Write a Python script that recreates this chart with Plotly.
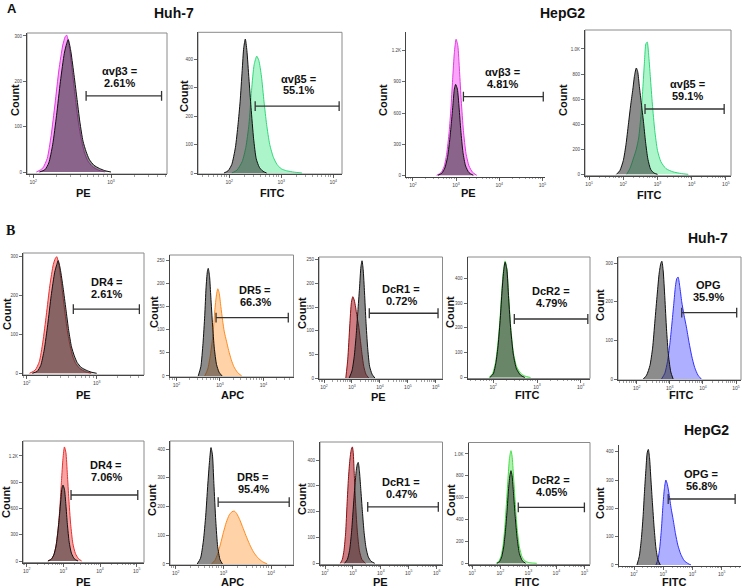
import plotly.graph_objects as go

W, H = 742, 588

# ---------------- DATA (log10 fluorescence, event count) ----------------
# Panel A, Huh-7 avb3 (PE)
a1_ctrl_x = [2.08, 2.15, 2.20, 2.25, 2.30, 2.35, 2.40, 2.43, 2.45, 2.48, 2.52, 2.56, 2.60, 2.64, 2.68, 2.72, 2.78, 2.85, 2.92, 3.00]
a1_ctrl_y = [0, 5, 20, 60, 125, 200, 262, 283, 292, 270, 220, 165, 110, 68, 45, 28, 15, 8, 3, 0]
a1_stain_x = [2.04, 2.12, 2.18, 2.23, 2.28, 2.33, 2.38, 2.41, 2.43, 2.46, 2.50, 2.54, 2.58, 2.62, 2.66, 2.70, 2.76, 2.84, 2.92]
a1_stain_y = [0, 8, 30, 80, 150, 225, 280, 298, 302, 280, 225, 165, 110, 70, 42, 25, 12, 4, 0]
# Panel A, Huh-7 avb5 (FITC)
a2_ctrl_x = [1.90, 1.98, 2.05, 2.12, 2.17, 2.21, 2.25, 2.28, 2.31, 2.34, 2.38, 2.42, 2.47, 2.52, 2.58, 2.65, 2.72]
a2_ctrl_y = [0, 8, 30, 90, 170, 250, 360, 440, 470, 430, 330, 230, 120, 50, 20, 6, 0]
a2_stain_x = [2.05, 2.15, 2.25, 2.32, 2.38, 2.43, 2.48, 2.53, 2.57, 2.62, 2.67, 2.72, 2.78, 2.85, 2.92, 3.00, 3.10, 3.25, 3.40]
a2_stain_y = [0, 10, 40, 90, 170, 290, 380, 410, 395, 340, 250, 170, 100, 55, 30, 15, 8, 3, 0]
# Panel A, HepG2 avb3 (PE)
a3_ctrl_x = [2.58, 2.67, 2.74, 2.80, 2.85, 2.89, 2.93, 2.96, 2.99, 3.03, 3.07, 3.11, 3.16, 3.22, 3.30, 3.40]
a3_ctrl_y = [0, 20, 70, 170, 330, 500, 690, 830, 875, 830, 650, 430, 220, 90, 25, 0]
a3_stain_x = [2.55, 2.65, 2.72, 2.78, 2.84, 2.88, 2.92, 2.96, 3.00, 3.04, 3.08, 3.12, 3.17, 3.23, 3.30, 3.38, 3.48]
a3_stain_y = [0, 25, 80, 200, 420, 640, 920, 1180, 1310, 1250, 1000, 720, 430, 210, 90, 30, 0]
# Panel A, HepG2 avb5 (FITC)
a4_ctrl_x = [1.80, 1.90, 2.00, 2.08, 2.15, 2.22, 2.28, 2.33, 2.38, 2.42, 2.47, 2.53, 2.59, 2.65, 2.72, 2.80, 2.90, 3.00]
a4_ctrl_y = [0, 30, 110, 240, 400, 560, 680, 790, 848, 820, 700, 560, 420, 260, 120, 40, 10, 0]
a4_stain_x = [2.10, 2.20, 2.30, 2.38, 2.45, 2.52, 2.57, 2.62, 2.66, 2.70, 2.74, 2.79, 2.85, 2.92, 3.00, 3.10, 3.25, 3.45, 3.70, 3.90]
a4_stain_y = [0, 50, 130, 200, 290, 480, 680, 900, 1040, 1055, 960, 780, 560, 350, 190, 100, 45, 20, 6, 0]
# Panel B, Huh-7
b1_ctrl_x = [2.08, 2.15, 2.20, 2.25, 2.30, 2.35, 2.40, 2.43, 2.45, 2.48, 2.52, 2.56, 2.60, 2.64, 2.68, 2.72, 2.78, 2.85, 2.92, 3.00]
b1_ctrl_y = [0, 5, 20, 60, 125, 200, 260, 280, 290, 268, 220, 165, 110, 68, 45, 28, 15, 8, 3, 0]
b1_stain_x = [2.04, 2.12, 2.18, 2.23, 2.28, 2.33, 2.38, 2.41, 2.43, 2.46, 2.50, 2.54, 2.58, 2.62, 2.66, 2.70, 2.76, 2.84, 2.92]
b1_stain_y = [0, 8, 30, 80, 150, 225, 280, 296, 300, 278, 225, 165, 110, 70, 42, 25, 12, 4, 0]
b2_ctrl_x = [2.50, 2.56, 2.61, 2.65, 2.68, 2.71, 2.73, 2.76, 2.79, 2.83, 2.87, 2.92, 2.98, 3.05]
b2_ctrl_y = [0, 20, 70, 130, 190, 225, 232, 215, 170, 110, 60, 25, 8, 0]
b2_stain_x = [2.65, 2.72, 2.78, 2.84, 2.88, 2.92, 2.95, 2.98, 3.02, 3.06, 3.10, 3.15, 3.20, 3.26, 3.32, 3.40, 3.50]
b2_stain_y = [0, 15, 45, 90, 140, 175, 188, 180, 150, 120, 95, 75, 55, 35, 20, 8, 0]
b3_ctrl_x = [2.90, 3.00, 3.08, 3.15, 3.21, 3.27, 3.32, 3.36, 3.40, 3.45, 3.50, 3.56, 3.63, 3.72, 3.82]
b3_ctrl_y = [0, 15, 45, 90, 140, 190, 235, 248, 230, 180, 120, 65, 25, 8, 0]
b3_stain_x = [2.78, 2.85, 2.92, 2.98, 3.03, 3.08, 3.13, 3.18, 3.24, 3.30, 3.36, 3.42, 3.50, 3.60]
b3_stain_y = [0, 40, 110, 160, 172, 165, 150, 130, 110, 80, 50, 25, 8, 0]
b4_ctrl_x = [1.92, 2.00, 2.06, 2.11, 2.16, 2.20, 2.24, 2.27, 2.31, 2.35, 2.40, 2.46, 2.53, 2.62, 2.72]
b4_ctrl_y = [0, 15, 60, 130, 240, 350, 435, 465, 435, 320, 190, 90, 35, 10, 0]
b4_stain_x = [1.90, 1.98, 2.05, 2.10, 2.15, 2.19, 2.23, 2.27, 2.31, 2.35, 2.40, 2.46, 2.53, 2.62, 2.72, 2.85]
b4_stain_y = [0, 15, 60, 130, 230, 340, 430, 470, 440, 330, 200, 100, 45, 18, 6, 0]
b5_ctrl_x = [2.20, 2.30, 2.40, 2.48, 2.55, 2.62, 2.68, 2.73, 2.76, 2.80, 2.85, 2.90, 2.96, 3.03, 3.10]
b5_ctrl_y = [0, 10, 35, 80, 150, 220, 275, 300, 305, 280, 210, 130, 60, 18, 0]
b5_stain_x = [2.75, 2.85, 2.93, 3.00, 3.06, 3.12, 3.17, 3.21, 3.25, 3.30, 3.36, 3.43, 3.50, 3.58, 3.66, 3.75, 3.85, 3.95]
b5_stain_y = [0, 15, 45, 90, 140, 195, 240, 260, 264, 240, 200, 165, 135, 95, 60, 30, 10, 0]
# Panel B, HepG2
c1_ctrl_x = [2.58, 2.67, 2.74, 2.80, 2.85, 2.89, 2.93, 2.96, 2.99, 3.03, 3.07, 3.11, 3.16, 3.22, 3.30, 3.40]
c1_ctrl_y = [0, 20, 70, 170, 330, 500, 690, 825, 867, 820, 640, 420, 215, 90, 25, 0]
c1_stain_x = [2.58, 2.68, 2.75, 2.81, 2.87, 2.91, 2.95, 2.99, 3.03, 3.07, 3.11, 3.15, 3.20, 3.26, 3.33, 3.41, 3.50]
c1_stain_y = [0, 25, 80, 200, 420, 640, 920, 1170, 1303, 1240, 990, 710, 420, 200, 85, 28, 0]
c2_ctrl_x = [2.45, 2.52, 2.58, 2.63, 2.67, 2.71, 2.74, 2.77, 2.80, 2.84, 2.88, 2.93, 2.98]
c2_ctrl_y = [0, 20, 80, 170, 270, 360, 405, 380, 280, 150, 60, 15, 0]
c2_stain_x = [2.75, 2.82, 2.88, 2.94, 3.00, 3.06, 3.12, 3.18, 3.23, 3.28, 3.34, 3.40, 3.47, 3.55, 3.63, 3.72, 3.82, 3.92]
c2_stain_y = [0, 12, 35, 70, 110, 145, 170, 182, 184, 175, 155, 130, 100, 68, 42, 22, 8, 0]
c3_ctrl_x = [2.70, 2.80, 2.88, 2.95, 3.01, 3.07, 3.12, 3.16, 3.19, 3.23, 3.28, 3.34, 3.40, 3.47, 3.55, 3.65, 3.78]
c3_ctrl_y = [0, 15, 50, 120, 210, 300, 360, 385, 391, 360, 290, 200, 120, 60, 25, 8, 0]
c3_stain_x = [2.55, 2.62, 2.68, 2.74, 2.79, 2.84, 2.89, 2.94, 2.98, 3.01, 3.05, 3.10, 3.16, 3.23, 3.32, 3.45]
c3_stain_y = [0, 15, 50, 120, 230, 330, 400, 440, 451, 430, 340, 220, 120, 50, 15, 0]
c4_ctrl_x = [1.88, 1.97, 2.05, 2.12, 2.18, 2.24, 2.29, 2.34, 2.38, 2.42, 2.47, 2.53, 2.60, 2.68, 2.78, 2.90]
c4_ctrl_y = [0, 15, 60, 150, 290, 480, 670, 800, 847, 800, 640, 430, 230, 90, 25, 0]
c4_stain_x = [1.85, 1.95, 2.03, 2.10, 2.16, 2.22, 2.28, 2.33, 2.38, 2.42, 2.47, 2.53, 2.60, 2.68, 2.78, 2.90, 3.05, 3.30]
c4_stain_y = [0, 20, 70, 170, 330, 560, 800, 970, 1030, 980, 800, 560, 320, 150, 55, 18, 5, 0]
c5_ctrl_x = [2.10, 2.18, 2.25, 2.31, 2.36, 2.41, 2.45, 2.49, 2.53, 2.58, 2.63, 2.69, 2.75, 2.82, 2.90]
c5_ctrl_y = [0, 30, 90, 170, 260, 340, 395, 408, 380, 300, 220, 130, 60, 18, 0]
c5_stain_x = [2.75, 2.82, 2.88, 2.94, 2.99, 3.04, 3.09, 3.14, 3.20, 3.27, 3.34, 3.42, 3.50, 3.60, 3.72, 3.85, 3.95]
c5_stain_y = [0, 20, 60, 130, 210, 270, 300, 285, 250, 200, 160, 110, 70, 38, 15, 5, 0]

ctrl_x = [a1_ctrl_x, a2_ctrl_x, a3_ctrl_x, a4_ctrl_x, b1_ctrl_x, b2_ctrl_x, b3_ctrl_x, b4_ctrl_x, b5_ctrl_x,
          c1_ctrl_x, c2_ctrl_x, c3_ctrl_x, c4_ctrl_x, c5_ctrl_x]
ctrl_y = [a1_ctrl_y, a2_ctrl_y, a3_ctrl_y, a4_ctrl_y, b1_ctrl_y, b2_ctrl_y, b3_ctrl_y, b4_ctrl_y, b5_ctrl_y,
          c1_ctrl_y, c2_ctrl_y, c3_ctrl_y, c4_ctrl_y, c5_ctrl_y]
stain_x = [a1_stain_x, a2_stain_x, a3_stain_x, a4_stain_x, b1_stain_x, b2_stain_x, b3_stain_x, b4_stain_x, b5_stain_x,
           c1_stain_x, c2_stain_x, c3_stain_x, c4_stain_x, c5_stain_x]
stain_y = [a1_stain_y, a2_stain_y, a3_stain_y, a4_stain_y, b1_stain_y, b2_stain_y, b3_stain_y, b4_stain_y, b5_stain_y,
           c1_stain_y, c2_stain_y, c3_stain_y, c4_stain_y, c5_stain_y]

# gates (log10 low, log10 high, drawn at count level)
gate_lo = [2.68, 2.50, 3.17, 2.635, 2.666, 2.91, 3.62, 2.48, 3.36, 3.21, 2.89, 3.53, 2.64, 3.17]
gate_hi = [3.65, 4.115, 5.02, 4.95, 3.61, 4.57, 6.08, 4.16, 5.02, 5.03, 4.38, 6.06, 5.00, 5.46]
gate_count = [168, 235, 757, 521, 165, 126, 137, 236, 172, 754, 215, 219, 512, 233]

label_top = ["αvβ3 =", "αvβ5 =", "αvβ3 =", "αvβ5 =", "DR4 =", "DR5 =", "DcR1 =", "DcR2 =", "OPG",
             "DR4 =", "DR5 =", "DcR1 =", "DcR2 =", "OPG ="]
label_pct = ["2.61%", "55.1%", "4.81%", "59.1%", "2.61%", "66.3%", "0.72%", "4.79%", "35.9%",
             "7.06%", "95.4%", "0.47%", "4.05%", "56.8%"]
channels = ["PE", "FITC", "PE", "FITC", "PE", "APC", "PE", "FITC", "FITC", "PE", "APC", "PE", "FITC", "FITC"]

x_decades = [[2, 3], [2, 3, 4], [2, 3, 4, 5], [1, 2, 3, 4, 5], [2, 3], [2, 3, 4], [2, 3, 4, 5, 6], [2, 3, 4],
             [2, 3, 4, 5], [2, 3, 4, 5], [2, 3, 4], [2, 3, 4, 5, 6], [1, 2, 3, 4, 5], [2, 3, 4, 5]]
y_ticks = [[0, 100, 200, 300], [0, 100, 200, 300, 400], [0, 300, 600, 900, 1200], [0, 200, 400, 600, 800, 1000],
           [0, 100, 200, 300], [0, 50, 100, 150, 200, 250], [0, 50, 100, 150, 200, 250], [0, 100, 200, 300, 400],
           [0, 100, 200, 300], [0, 300, 600, 900, 1200], [0, 100, 200, 300, 400], [0, 100, 200, 300, 400],
           [0, 200, 400, 600, 800, 1000], [0, 100, 200, 300, 400]]
y_ticktext = [["0", "100", "200", "300"], ["0", "100", "200", "300", "400"], ["0", "300", "600", "900", "1.2K"],
              ["0", "200", "400", "600", "800", "1.0K"], ["0", "100", "200", "300"],
              ["0", "50", "100", "150", "200", "250"], ["0", "50", "100", "150", "200", "250"],
              ["0", "100", "200", "300", "400"], ["0", "100", "200", "300"], ["0", "300", "600", "900", "1.2K"],
              ["0", "100", "200", "300", "400"], ["0", "100", "200", "300", "400"],
              ["0", "200", "400", "600", "800", "1.0K"], ["0", "100", "200", "300", "400"]]

# ---------------- LAYOUT / STYLE ----------------
# plot box in pixels: left, right, top, bottom ; axis ranges
boxes = [(27, 167, 33, 174), (198, 342, 32.3, 174), (406, 545, 31.7, 176.7), (585, 731, 30, 175.7),
         (23, 144, 253, 375), (169.5, 293.5, 255, 377), (319, 442.5, 257, 379), (467.5, 590, 257, 378.5),
         (618, 741, 257, 380),
         (23, 144, 441, 562.5), (170, 293.5, 441, 565), (320, 442.5, 442, 564.5), (468.5, 590, 442.5, 564.5),
         (618.5, 741, 445, 565.5)]
xranges = [(1.92, 3.72), (1.40, 4.17), (1.84, 5.06), (0.88, 5.15), (1.947, 3.676), (1.84, 4.69), (1.82, 6.24),
           (1.41, 4.21), (1.435, 5.15), (1.90, 5.20), (1.88, 4.47), (1.82, 6.21), (0.864, 5.2), (1.47, 5.66)]
yranges = [(-4.4, 306.6), (-3.5, 493.7), (-13.5, 1383), (-11, 1151), (-4.4, 309.5), (-2.2, 260.8), (-2.1, 256),
           (-4, 486), (-2.6, 316), (-17, 1371), (-3.5, 428), (-4.6, 470), (-11, 1105), (-1.8, 423.6)]
boxed = [True, True, False, True, True, True, True, True, True, True, True, True, True, False]
label_pos = [(120, 77), (298, 84.5), (502, 78), (687, 89.7), (107, 288.3), (255, 296), (401, 294.7), (551, 297),
             (708, 290.8), (106, 471), (253, 483), (401, 487.5), (551, 486), (701, 480)]
count_pos = [(15, 100), (184, 96), (383, 100), (563, 100), (7, 314), (154, 312), (302, 313), (450, 312), (600, 305),
             (6, 502), (152, 500), (302, 499), (451, 500), (600, 503)]
chan_pos = [(83, 193), (272, 193), (468, 193), (649, 195), (83, 395), (232, 395), (378, 396.5), (527, 395),
            (681, 395), (83, 581.5), (232, 581.5), (380, 581.5), (527, 581.5), (674, 581.5)]

MAG = ("#e03ce0", "rgba(245,90,245,0.55)")
GRN = ("#2fd67a", "rgba(90,235,150,0.5)")
RED = ("#e83030", "rgba(240,90,90,0.55)")
ORG = ("#ff8a1e", "rgba(255,165,80,0.5)")
DRD = ("#8a1010", "rgba(175,40,50,0.6)")
LGR = ("#44dd44", "rgba(110,230,110,0.55)")
BLU = ("#3030ff", "rgba(110,110,255,0.55)")
colors = [MAG, GRN, MAG, GRN, RED, ORG, DRD, LGR, BLU, RED, ORG, DRD, LGR, BLU]
GRAY_FILL = "rgba(50,50,50,0.56)"

BOLD = "Liberation Sans"
SERIF = "Liberation Serif"


def px(x):
    return x / W


def py(y):
    return 1 - y / H


fig = go.Figure()
layout = dict(width=W, height=H, margin=dict(l=0, r=0, t=0, b=0, autoexpand=False), paper_bgcolor="white",
              plot_bgcolor="rgba(0,0,0,0)", showlegend=False)
annotations = []
shapes = []

for i in range(14):
    n = i + 1
    xa = "x" if n == 1 else f"x{n}"
    ya = "y" if n == 1 else f"y{n}"
    l, r, t, b = boxes[i]
    layout["xaxis" if n == 1 else f"xaxis{n}"] = dict(
        domain=[px(l), px(r)], range=list(xranges[i]), type="log", anchor=ya, automargin=False,
        showline=True, linecolor="#444", linewidth=1, mirror=False, ticks="outside", ticklen=3,
        tickcolor="#444", tickwidth=0.8, tickfont=dict(size=5, color="#444", family=BOLD),
        tickmode="array", tickvals=[10 ** d for d in x_decades[i]],
        ticktext=[f"10<sup>{d}</sup>" for d in x_decades[i]],
        minor=dict(ticks="outside", ticklen=1.5, tickcolor="#666", tickwidth=0.6, dtick="D1"),
        showgrid=False, zeroline=False, fixedrange=True)
    layout["yaxis" if n == 1 else f"yaxis{n}"] = dict(
        domain=[py(b), py(t)], range=list(yranges[i]), anchor=xa, automargin=False,
        showline=True, linecolor="#444", linewidth=1, mirror=False, ticks="outside", ticklen=3,
        tickcolor="#444", tickwidth=0.8, tickfont=dict(size=4.5, color="#444", family=BOLD),
        tickmode="array", tickvals=y_ticks[i], ticktext=y_ticktext[i],
        showgrid=False, zeroline=False, fixedrange=True)
    if boxed[i]:
        shapes.append(dict(type="rect", xref="paper", yref="paper", x0=px(l), x1=px(r), y0=py(b), y1=py(t),
                           line=dict(color="#8a8a8a", width=1), layer="below"))

    lc, fc = colors[i]
    fig.add_trace(go.Scatter(x=[10 ** v for v in stain_x[i]], y=stain_y[i], xaxis=xa, yaxis=ya, mode="lines",
                             line=dict(color=lc, width=1, shape="spline", smoothing=0.6),
                             fill="tozeroy", fillcolor=fc, hoverinfo="skip"))
    fig.add_trace(go.Scatter(x=[10 ** v for v in ctrl_x[i]], y=ctrl_y[i], xaxis=xa, yaxis=ya, mode="lines",
                             line=dict(color="#111", width=1, shape="spline", smoothing=0.6),
                             fill="tozeroy", fillcolor=GRAY_FILL, hoverinfo="skip"))
    fig.add_trace(go.Scatter(x=[10 ** gate_lo[i], 10 ** gate_hi[i]], y=[gate_count[i], gate_count[i]],
                             xaxis=xa, yaxis=ya, mode="lines+markers",
                             line=dict(color="#333", width=1.3),
                             marker=dict(symbol="line-ns-open", size=7, line=dict(color="#333", width=1.3)),
                             hoverinfo="skip"))

    cx, cy = label_pos[i]
    for txt, dy in ((label_top[i], -6), (label_pct[i], 6)):
        annotations.append(dict(x=px(cx), y=py(cy + dy), xref="paper", yref="paper", text=f"<b>{txt}</b>",
                                showarrow=False, xanchor="center", yanchor="middle",
                                font=dict(size=11, family=BOLD, color="#111")))
    qx, qy = count_pos[i]
    annotations.append(dict(x=px(qx), y=py(qy), xref="paper", yref="paper", text="<b>Count</b>", textangle=-90,
                            showarrow=False, xanchor="center", yanchor="middle",
                            font=dict(size=11, family=BOLD, color="#111")))
    hx, hy = chan_pos[i]
    annotations.append(dict(x=px(hx), y=py(hy), xref="paper", yref="paper", text=f"<b>{channels[i]}</b>",
                            showarrow=False, xanchor="center", yanchor="middle",
                            font=dict(size=11, family=BOLD, color="#111")))

headers = [("A", 12, 8, 13, BOLD), ("Huh-7", 174, 12.5, 14, BOLD), ("HepG2", 562, 12.5, 14, BOLD),
           ("B", 10, 231, 14, SERIF),
           ("Huh-7", 708, 238, 14, BOLD), ("HepG2", 706, 430, 14, BOLD)]
for txt, x, y, s, fam in headers:
    annotations.append(dict(x=px(x), y=py(y), xref="paper", yref="paper", text=f"<b>{txt}</b>",
                            showarrow=False, xanchor="center", yanchor="middle",
                            font=dict(size=s, family=fam, color="#111")))

layout["annotations"] = annotations
layout["shapes"] = shapes
fig.update_layout(**layout)
fig.write_html("out.html", config={"displayModeBar": False, "staticPlot": True},
               post_script="document.body.style.margin='0px';document.body.style.overflow='hidden';")
